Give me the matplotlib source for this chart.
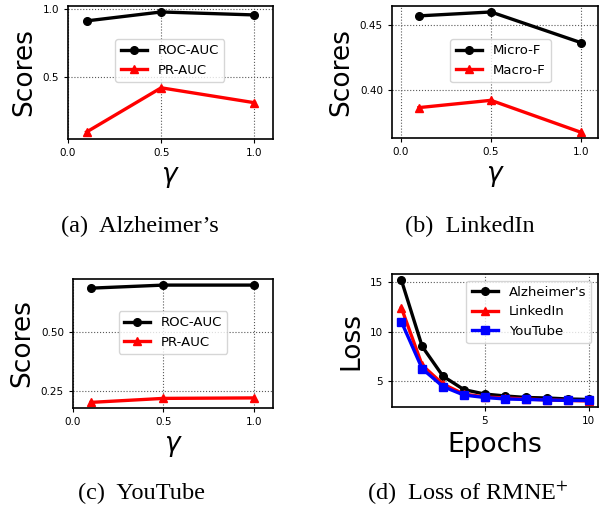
import matplotlib
matplotlib.use("Agg")
import matplotlib.pyplot as plt

# gamma sweep
gammas = [0.1, 0.5, 1.0]

alz_roc = [0.914, 0.980, 0.958]
alz_pr = [0.094, 0.420, 0.310]

lin_micro = [0.457, 0.460, 0.4364]
lin_macro = [0.3864, 0.392, 0.3674]

yt_roc = [0.687, 0.700, 0.700]
yt_pr = [0.200, 0.217, 0.219]

# loss curves
epochs = [1, 2, 3, 4, 5, 6, 7, 8, 9, 10]
loss_alz = [15.2, 8.5, 5.5, 4.15, 3.7, 3.5, 3.35, 3.3, 3.2, 3.15]
loss_lin = [12.4, 6.6, 4.7, 3.7, 3.4, 3.3, 3.2, 3.1, 3.05, 3.0]
loss_yt = [11.0, 6.25, 4.45, 3.6, 3.35, 3.2, 3.15, 3.1, 3.05, 3.05]

captions = ["(a)  Alzheimer\u2019s", "(b)  LinkedIn", "(c)  YouTube", r"(d)  Loss of RMNE$^{+}$"]

lw = 2.4
ms = 5.5
tick_fs = 7.5
label_fs = 19
leg_fs = 9.5

fig = plt.figure(figsize=(5.99, 5.07), dpi=100)

W, H = 599.0, 507.0
def add_ax(left, right, top, bottom):
    return fig.add_axes([left / W, 1 - bottom / H, (right - left) / W, (bottom - top) / H])

ax_a = add_ax(68, 273, 6, 139)
ax_b = add_ax(392, 598, 6, 138)
ax_c = add_ax(73, 273, 279, 408)
ax_d = add_ax(392, 598, 274, 407)

def style(ax):
    ax.grid(True, linestyle=':', color='0.35', linewidth=0.8)
    ax.tick_params(labelsize=tick_fs, length=3)
    for s in ax.spines.values():
        s.set_linewidth(1.2)

# (a)
ax_a.plot(gammas, alz_roc, color='k', marker='o', lw=lw, ms=ms, label='ROC-AUC')
ax_a.plot(gammas, alz_pr, color='r', marker='^', lw=lw, ms=ms, label='PR-AUC')
ax_a.set_xlim(0, 1.1)
ax_a.set_ylim(0.042, 1.024)
ax_a.set_yticks([0.5, 1.0])
ax_a.set_xticks([0.0, 0.5, 1.0])
ax_a.legend(loc='center', bbox_to_anchor=(0.497, 0.59), fontsize=leg_fs)

# (b)
ax_b.plot(gammas, lin_micro, color='k', marker='o', lw=lw, ms=ms, label='Micro-F')
ax_b.plot(gammas, lin_macro, color='r', marker='^', lw=lw, ms=ms, label='Macro-F')
ax_b.set_xlim(-0.05, 1.095)
ax_b.set_ylim(0.363, 0.4646)
ax_b.set_yticks([0.40, 0.45])
ax_b.set_xticks([0.0, 0.5, 1.0])
ax_b.legend(loc='center', bbox_to_anchor=(0.527, 0.586), fontsize=leg_fs)

# (c)
ax_c.plot(gammas, yt_roc, color='k', marker='o', lw=lw, ms=ms, label='ROC-AUC')
ax_c.plot(gammas, yt_pr, color='r', marker='^', lw=lw, ms=ms, label='PR-AUC')
ax_c.set_xlim(0, 1.105)
ax_c.set_ylim(0.176, 0.726)
ax_c.set_yticks([0.25, 0.50])
ax_c.set_xticks([0.0, 0.5, 1.0])
ax_c.legend(loc='center', bbox_to_anchor=(0.5, 0.585), fontsize=leg_fs)

for ax in (ax_a, ax_b, ax_c):
    ax.set_xlabel(r'$\gamma$', fontsize=label_fs)
    ax.set_ylabel('Scores', fontsize=label_fs)
    style(ax)

# (d)
ax_d.plot(epochs, loss_alz, color='k', marker='o', lw=lw, ms=ms, label="Alzheimer's")
ax_d.plot(epochs, loss_lin, color='r', marker='^', lw=lw, ms=ms, label='LinkedIn')
ax_d.plot(epochs, loss_yt, color='b', marker='s', lw=lw, ms=ms, label='YouTube')
ax_d.set_xticks([5, 10])
ax_d.set_yticks([5, 10, 15])
ax_d.set_xlabel('Epochs', fontsize=label_fs)
ax_d.set_ylabel('Loss', fontsize=label_fs)
ax_d.legend(loc='upper right', fontsize=leg_fs)
style(ax_d)

cap_pos = [(140, 226), (470, 226), (141, 493), (468, 493)]
for (cx, cy), txt in zip(cap_pos, captions):
    fig.text(cx / W, 1 - cy / H, txt, ha='center', va='center',
             family='Liberation Serif', fontsize=17.5, math_fontfamily='stix')

fig.savefig('out.png', dpi=100)
